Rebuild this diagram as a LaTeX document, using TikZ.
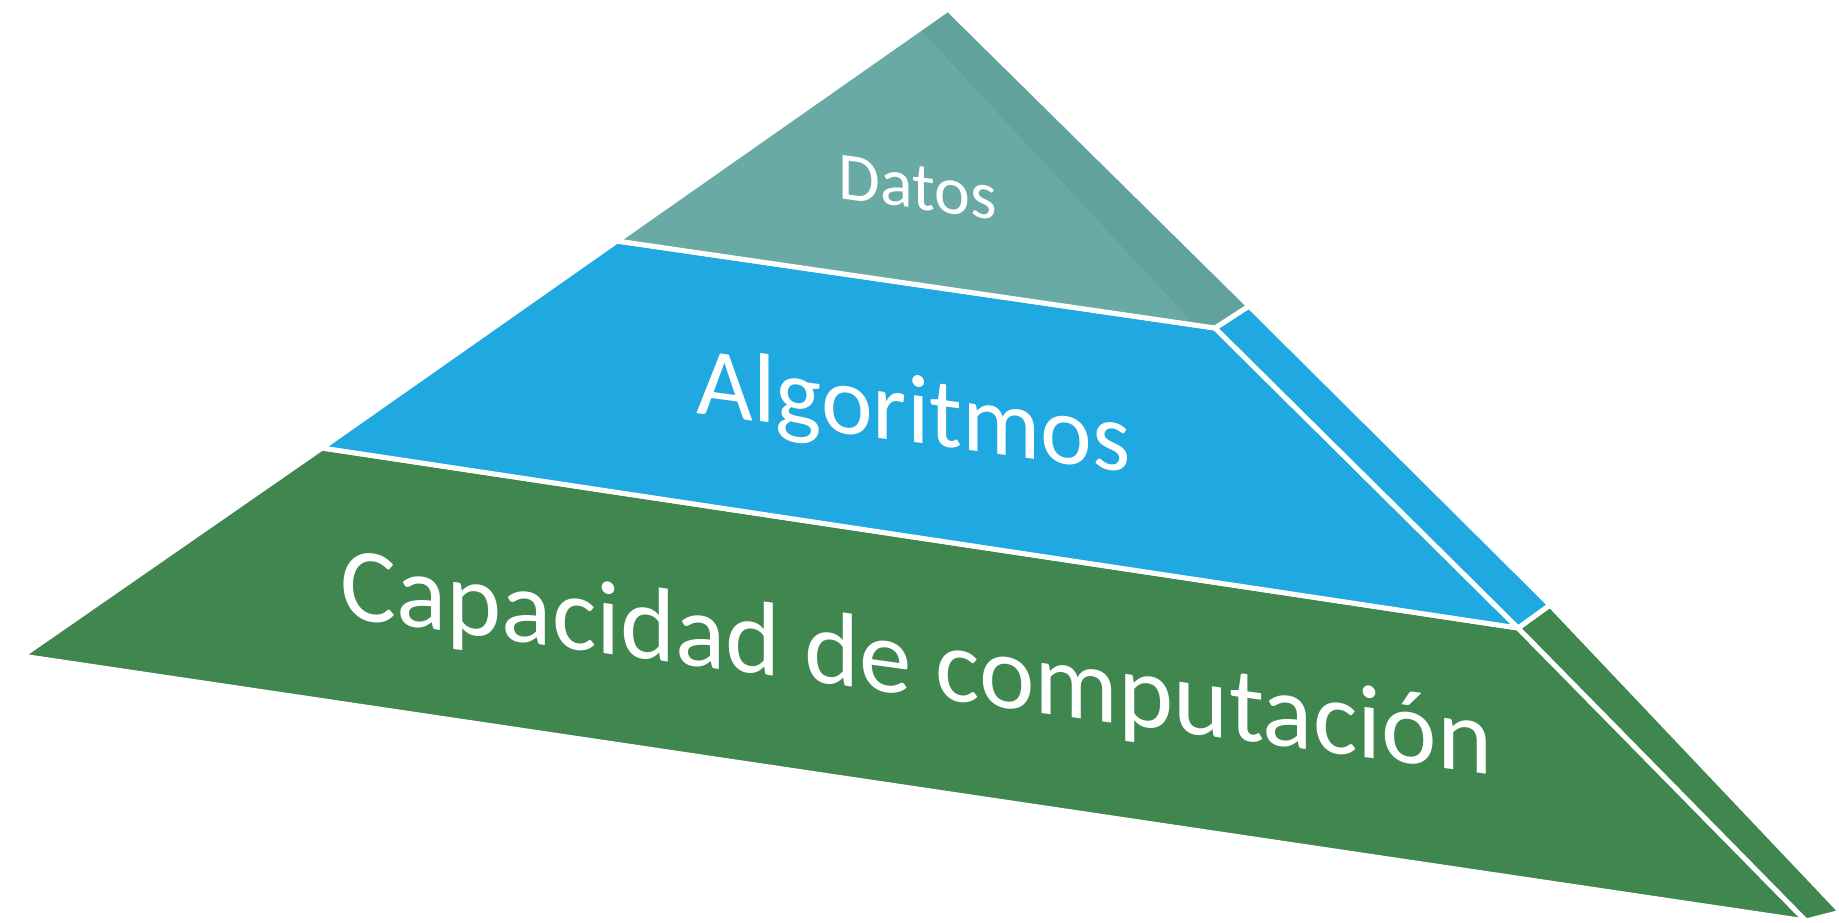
\documentclass[tikz,border=0pt]{standalone}
\usepackage{fontspec}
\newfontfamily\pyrfont{Carlito}
\definecolor{datoscol}{HTML}{6AAAA5}
\definecolor{datosside}{HTML}{62A29D}
\definecolor{algocol}{HTML}{20A8E1}
\definecolor{compcol}{HTML}{3F864F}

\begin{document}
\begin{tikzpicture}[x=0.5pt,y=0.5pt,
  face/.style={draw=white,line width=2.5pt,line join=round},
  tag/.style={text=white,inner sep=0pt,anchor=base west,yslant=-0.137}]
\useasboundingbox (0,-922) rectangle (1839,0);
% corners of the pyramid
\coordinate (top) at (948,-9);
\coordinate (dl) at (617,-241);
\coordinate (dr) at (1215,-328);
\coordinate (ds) at (1249,-306);
\coordinate (al) at (322,-448);
\coordinate (ar) at (1518,-628);
\coordinate (as) at (1550,-605);
\coordinate (cl) at (22,-656);
\coordinate (cr) at (1806,-921);
\coordinate (cs) at (1841,-912);
\coordinate (shade1) at (920,-29);
\coordinate (shade2) at (1195,-325);
% bottom layer
\path[face,fill=compcol] (al) -- (ar) -- (cr) -- (cl) -- cycle;
\path[face,fill=compcol] (ar) -- (as) -- (cs) -- (cr) -- cycle;
% middle layer
\path[face,fill=algocol] (dl) -- (dr) -- (ar) -- (al) -- cycle;
\path[face,fill=algocol] (dr) -- (ds) -- (as) -- (ar) -- cycle;
% top layer
\fill[datoscol] (top) -- (ds) -- (dr) -- (dl) -- cycle;
\fill[datosside] (top) -- (shade1) -- (shade2) -- (dr) -- (ds) -- cycle;
\draw[white,line width=2.5pt,line join=round] (top) -- (ds) -- (dr) -- (dl) -- cycle;
% labels
\node[tag,font=\pyrfont\fontsize{34}{34}\selectfont] (datos) at (838,-198) {Datos};
\node[tag,font=\pyrfont\fontsize{49}{49}\selectfont] (algo) at (696,-413) {Algoritmos};
\node[tag,font=\pyrfont\fontsize{52.5}{52.5}\selectfont] (comp) at (340,-617) {Capacidad de computación};
\end{tikzpicture}
\end{document}
